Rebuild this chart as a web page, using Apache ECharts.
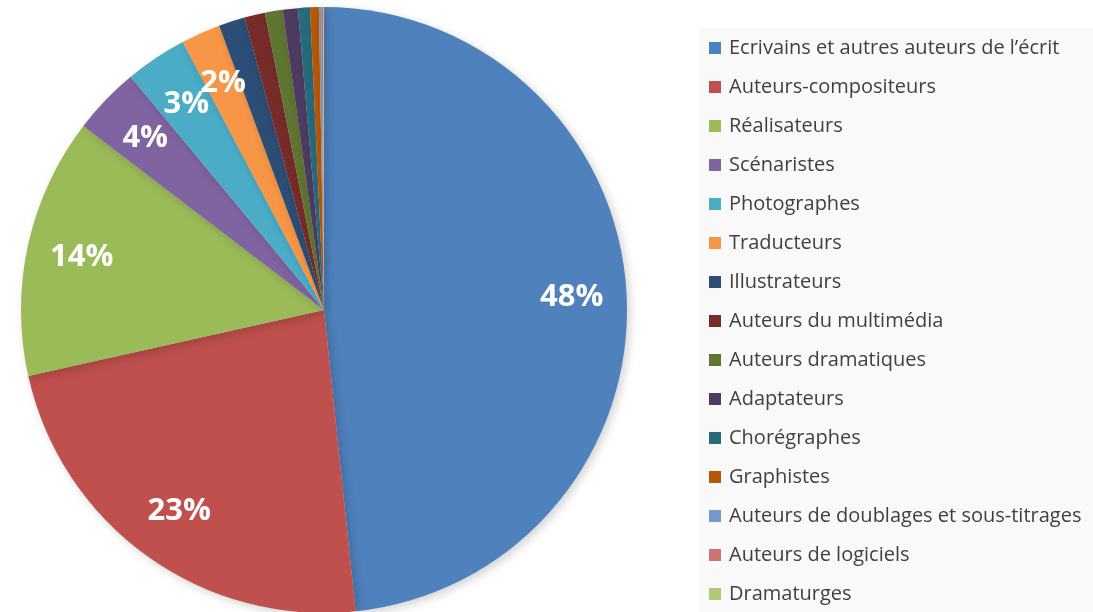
<!DOCTYPE html>
<html>
<head>
<meta charset="utf-8">
<script src="https://cdn.jsdelivr.net/npm/echarts@6/dist/echarts.min.js"></script>
<style>
  html, body { margin: 0; padding: 0; background: #fff; }
  #chart { width: 1093px; height: 612px; }
</style>
</head>
<body>
<div id="chart"></div>
<script>
var categories = [
    'Ecrivains et autres auteurs de l\u2019écrit',
    'Auteurs-compositeurs',
    'Réalisateurs',
    'Scénaristes',
    'Photographes',
    'Traducteurs',
    'Illustrateurs',
    'Auteurs du multimédia',
    'Auteurs dramatiques',
    'Adaptateurs',
    'Chorégraphes',
    'Graphistes',
    'Auteurs de doublages et sous-titrages',
    'Auteurs de logiciels',
    'Dramaturges'
];
var shares = [48.4, 23.2, 13.9, 3.6, 3.3, 2.1, 1.4, 1.1, 0.95, 0.8, 0.64, 0.47, 0.12, 0.1, 0.05];
var colors = ['#4f81bd', '#c0504d', '#9bbb59', '#8064a2', '#4bacc6', '#f79646', '#2c4d75',
    '#772c2a', '#5f7530', '#4d3b62', '#276a7c', '#b65708', '#729aca', '#cd7371', '#afc97a'];

var myChart = echarts.init(document.getElementById('chart'));

var pieData = categories.map(function (name, i) {
    return {name: name, value: shares[i]};
});

myChart.setOption({
    color: colors,
    animation: false,
    legend: {
        orient: 'vertical',
        left: 699,
        top: 28,
        height: 590,
        padding: [10, 60, 20, 10],
        backgroundColor: '#f9f9f9',
        itemWidth: 12,
        itemHeight: 12,
        itemGap: 19,
        icon: 'rect',
        textStyle: {
            fontFamily: 'Open Sans',
            fontSize: 20,
            lineHeight: 20,
            color: '#404040',
            padding: [0, 0, 0, 3]
        },
        data: categories
    },
    series: [
        {
            type: 'pie',
            center: [324, 310],
            radius: [0, 303],
            startAngle: 90,
            clockwise: true,
            silent: true,
            itemStyle: {
                borderWidth: 0,
                shadowBlur: 10,
                shadowColor: 'rgba(0,0,0,0.18)',
                shadowOffsetX: 3,
                shadowOffsetY: 3
            },
            label: {show: false},
            labelLine: {show: false},
            data: pieData
        },
        {
            // transparent ring only used to place the percentage labels
            type: 'pie',
            center: [324, 310],
            radius: [187, 303],
            startAngle: 90,
            clockwise: true,
            silent: true,
            avoidLabelOverlap: false,
            labelLayout: {hideOverlap: false},
            itemStyle: {color: 'rgba(0,0,0,0)'},
            label: {
                show: true,
                position: 'inside',
                color: '#fff',
                fontFamily: 'Open Sans',
                fontWeight: 'bold',
                fontSize: 31,
                formatter: function (p) {
                    return p.value >= 1.5 ? Math.round(p.value) + '%' : '';
                }
            },
            labelLine: {show: false},
            data: pieData
        }
    ]
});
</script>
</body>
</html>
